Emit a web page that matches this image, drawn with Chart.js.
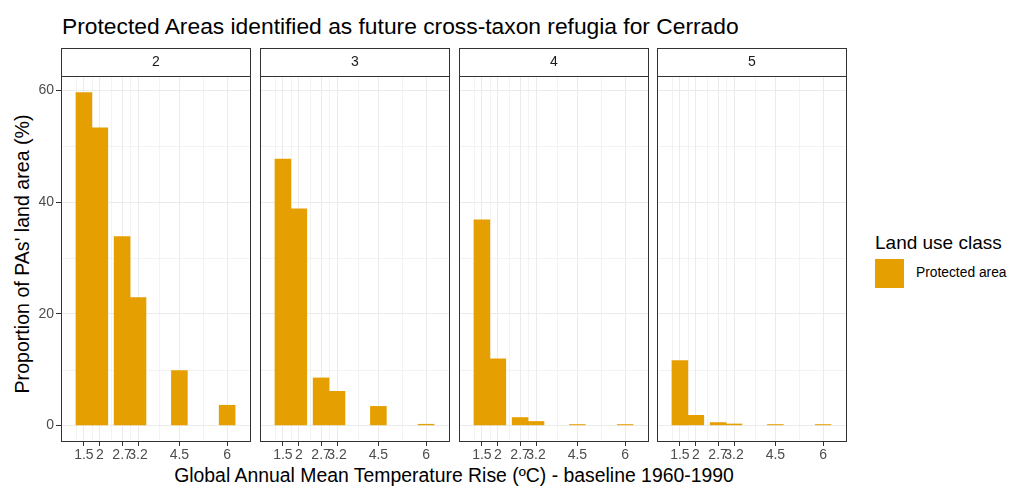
<!DOCTYPE html>
<html>
<head>
<meta charset="utf-8">
<script src="https://cdn.jsdelivr.net/npm/chart.js@4.4.0/dist/chart.umd.min.js"></script>
<style>
  body { margin: 0; background: #fff; font-family: "Liberation Sans", Arial, sans-serif; }
  #wrap { position: relative; width: 1015px; height: 488px; overflow: hidden; background: #fff; }
  #wrap canvas { position: absolute; }
  .txt { position: absolute; white-space: nowrap; color: #000; line-height: 1; }
</style>
</head>
<body>
<div id="wrap">
  <div class="txt" id="title" style="left:62px;top:26px;font-size:22.8px;transform:translateY(-50%)">Protected Areas identified as future cross-taxon refugia for Cerrado</div>
  <div class="txt" id="xTitle" style="left:454px;top:476px;font-size:19.4px;transform:translate(-50%,-50%)">Global Annual Mean Temperature Rise (ºC) - baseline 1960-1990</div>
  <div class="txt" id="yTitle" style="left:23px;top:254px;font-size:19.6px;transform:translate(-50%,-50%) rotate(-90deg)">Proportion of PAs' land area (%)</div>
  <div class="txt" id="legTitle" style="left:875px;top:242px;font-size:19px;transform:translateY(-50%)">Land use class</div>
  <div id="legKey" style="position:absolute;left:875px;top:259px;width:29px;height:29px;background:#E69F00"></div>
  <div class="txt" id="legLabel" style="left:916px;top:273px;font-size:13.8px;transform:translateY(-50%)">Protected area</div>
</div>
<script>
// warming levels (x) and one series per facet
const temps = [1.5, 2, 2.7, 3.2, 4.5, 6];
const facets = ['2', '3', '4', '5'];
const pa2 = [59.6, 53.3, 33.8, 22.9, 9.8, 3.6];
const pa3 = [47.7, 38.8, 8.5, 6.1, 3.4, 0.2];
const pa4 = [36.8, 11.9, 1.4, 0.7, 0.15, 0.15];
const pa5 = [11.6, 1.8, 0.5, 0.25, 0.15, 0.15];
const series = [pa2, pa3, pa4, pa5];

const yMajor = [0, 20, 40, 60];
const yMinor = [10, 30, 50];
const xMinor = [1.25, 1.75, 2.35, 2.95, 3.85, 5.25, 6.75];

const barColour = '#E69F00';
const gridColour = '#ebebeb';
const frameColour = '#333333';
const tickText = '#4d4d4d';
const fontFamily = '"Liberation Sans", Arial, sans-serif';

const panelLeft = [61, 260, 459, 657];
const panelWidth = 190;
const stripH = 28;

// strip on top, minor grid and panel frame
const facetDecor = {
  id: 'facetDecor',
  beforeDatasetsDraw(chart, args, opts) {
    const { ctx, chartArea: a, scales: { x, y } } = chart;
    ctx.save();
    ctx.strokeStyle = gridColour;
    ctx.lineWidth = 0.6;
    xMinor.forEach(v => {
      const px = Math.round(x.getPixelForValue(v)) + 0.5;
      ctx.beginPath(); ctx.moveTo(px, a.top); ctx.lineTo(px, a.bottom); ctx.stroke();
    });
    yMinor.forEach(v => {
      const py = Math.round(y.getPixelForValue(v)) + 0.5;
      ctx.beginPath(); ctx.moveTo(a.left, py); ctx.lineTo(a.right, py); ctx.stroke();
    });
    ctx.restore();
  },
  afterDraw(chart, args, opts) {
    const { ctx, chartArea: a } = chart;
    ctx.save();
    ctx.strokeStyle = frameColour;
    ctx.lineWidth = 1;
    ctx.strokeRect(a.left + 0.5, a.top + 0.5, a.right - a.left - 1, a.bottom - a.top - 1);
    ctx.fillStyle = '#fff';
    ctx.fillRect(a.left, a.top - stripH, a.right - a.left, stripH);
    ctx.strokeRect(a.left + 0.5, a.top - stripH + 0.5, a.right - a.left - 1, stripH);
    ctx.fillStyle = '#1a1a1a';
    ctx.font = '14px ' + fontFamily;
    ctx.textAlign = 'center';
    ctx.textBaseline = 'middle';
    ctx.fillText(opts.label, (a.left + a.right) / 2, a.top - stripH / 2);
    ctx.restore();
  }
};

function makePanel(i) {
  const axisW = i === 0 ? 31 : 0;
  const c = document.createElement('canvas');
  c.width = panelWidth + axisW;
  c.height = 418;
  c.style.left = (panelLeft[i] - axisW) + 'px';
  c.style.top = '48px';
  document.getElementById('wrap').appendChild(c);

  new Chart(c, {
    type: 'bar',
    data: {
      datasets: [{
        label: 'Protected area',
        data: temps.map((t, k) => ({ x: t, y: series[i][k] })),
        backgroundColor: barColour,
        borderWidth: 0,
        barPercentage: 1,
        categoryPercentage: 1
      }]
    },
    options: {
      responsive: false,
      animation: false,
      devicePixelRatio: 1,
      layout: { padding: { top: stripH, left: 0, right: 0, bottom: 0 } },
      plugins: {
        legend: { display: false },
        tooltip: { enabled: false },
        facetDecor: { label: facets[i] }
      },
      scales: {
        x: {
          type: 'linear',
          min: 0.78,
          max: 6.75,
          offset: false,
          afterBuildTicks: s => { s.ticks = temps.map(v => ({ value: v })); },
          afterFit: s => { s.height = 24; },
          border: { display: false },
          grid: { offset: false, color: gridColour, lineWidth: 1, tickLength: 4, tickColor: frameColour },
          ticks: {
            autoSkip: false, maxRotation: 0, padding: 1, color: tickText,
            font: { size: 14, family: fontFamily },
            callback: v => String(v)
          }
        },
        y: {
          min: -2.98,
          max: 62.58,
          afterBuildTicks: s => { s.ticks = yMajor.map(v => ({ value: v })); },
          afterFit: s => { s.width = axisW; },
          border: { display: false },
          grid: { color: gridColour, lineWidth: 1, drawTicks: i === 0, tickLength: 5, tickColor: frameColour },
          ticks: {
            display: i === 0, padding: 2, color: tickText,
            font: { size: 14, family: fontFamily }
          }
        }
      }
    },
    plugins: [facetDecor]
  });
}

facets.forEach((f, i) => makePanel(i));
</script>
</body>
</html>
